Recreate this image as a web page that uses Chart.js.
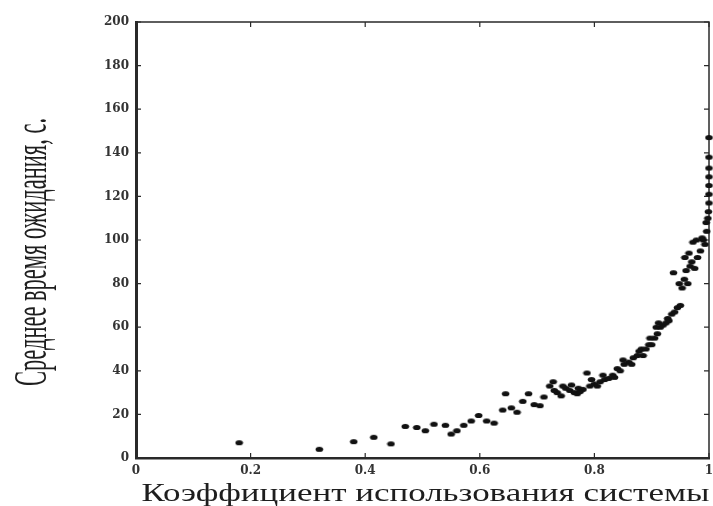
<!DOCTYPE html>
<html>
<head>
<meta charset="utf-8">
<script src="https://cdn.jsdelivr.net/npm/chart.js@4/dist/chart.umd.min.js"></script>
<style>
  html, body { margin: 0; padding: 0; background: #fff; }
  #wrap { width: 713px; height: 506px; }
</style>
</head>
<body>
<div id="wrap"><canvas id="chart"></canvas></div>
<script>
// utilization factor (x) vs mean waiting time, s (y)
const utilization = [
  0.18, 0.32, 0.38, 0.415, 0.445, 0.47, 0.49, 0.505, 0.52, 0.54,
  0.55, 0.56, 0.572, 0.585, 0.598, 0.612, 0.625, 0.64, 0.645, 0.655,
  0.665, 0.675, 0.685, 0.695, 0.705, 0.712, 0.722, 0.728, 0.735, 0.742,
  0.75, 0.757, 0.765, 0.772, 0.78, 0.787, 0.792, 0.8, 0.81, 0.818,
  0.825, 0.832, 0.84, 0.845, 0.852, 0.86, 0.868, 0.875, 0.882, 0.89,
  0.895, 0.9, 0.905, 0.91, 0.915, 0.92, 0.925, 0.93, 0.935, 0.94,
  0.945, 0.95, 0.953, 0.957, 0.96, 0.963, 0.967, 0.97, 0.975, 0.98,
  0.985, 0.99, 0.993, 0.996, 0.998, 0.999, 1.0, 1.0, 1.0, 1.0,
  0.73, 0.745, 0.76, 0.77, 0.775, 0.795, 0.805, 0.815, 0.835, 0.85,
  0.865, 0.878, 0.885, 0.897, 0.908, 0.912, 0.928, 0.938, 0.948, 0.958,
  0.965, 0.972, 0.978, 0.988, 0.995, 1.0, 1.0, 1.0
];
const waitTime = [
  7, 4, 7.5, 9.5, 6.5, 14.5, 14, 12.5, 15.5, 15,
  11, 12.5, 15, 17, 19.5, 17, 16, 22, 29.5, 23,
  21, 26, 29.5, 24.5, 24, 28, 33, 35, 30, 28.5,
  32, 31, 30, 32, 31.5, 39, 33, 34, 35, 36,
  36.5, 38, 41, 40, 43, 44, 46, 47, 50, 50,
  52, 52, 55, 57, 60, 61, 62, 63, 66, 67,
  69, 70, 78, 82, 86, 80, 88, 90, 87, 92,
  95, 100, 98, 104, 110, 113, 117, 121, 129, 147,
  31, 33, 33.5, 29.5, 30.5, 36, 33, 38, 37, 45,
  43, 49, 47, 55, 60, 62, 64, 85, 80, 92,
  94, 99, 100, 101, 108, 125, 138, 133
];
const xTickLabels = ["0", "0.2", "0.4", "0.6", "0.8", "1"];
const yTickLabels = ["0", "20", "40", "60", "80", "100", "120", "140", "160", "180", "200"];

const xTitle = "Коэффициент использования системы";
const yTitle = "Среднее время ожидания, с.";

// blurry elliptical blob used as the marker
function makeBlob() {
  const c = document.createElement("canvas");
  c.width = 9; c.height = 7;
  const g = c.getContext("2d");
  g.fillStyle = "#111";
  g.beginPath();
  g.ellipse(4.5, 3.5, 3.8, 2.6, 0, 0, Math.PI * 2);
  g.fill();
  return c;
}

function drawFitted(ctx, text, x, y, width, angle) {
  ctx.save();
  ctx.translate(x, y);
  ctx.rotate(angle);
  const w = ctx.measureText(text).width;
  ctx.scale(width / w, 1);
  ctx.fillText(text, 0, 0);
  ctx.restore();
}

// frame, inward ticks on all four sides, and the two axis titles
const framePlugin = {
  id: "frame",
  beforeDatasetsDraw(chart) {
    const { ctx, chartArea: a, scales } = chart;
    const x = scales.x, y = scales.y;
    ctx.save();
    ctx.strokeStyle = "#2a2a2a";
    ctx.lineWidth = 1.5;
    ctx.strokeRect(a.left, a.top, a.right - a.left, a.bottom - a.top);
    ctx.lineWidth = 1.2;
    const len = 5;
    ctx.beginPath();
    x.ticks.forEach((t) => {
      const px = x.getPixelForValue(t.value);
      ctx.moveTo(px, a.bottom); ctx.lineTo(px, a.bottom - len);
      ctx.moveTo(px, a.top); ctx.lineTo(px, a.top + len);
    });
    y.ticks.forEach((t) => {
      const py = y.getPixelForValue(t.value);
      ctx.moveTo(a.left, py); ctx.lineTo(a.left + len, py);
      ctx.moveTo(a.right, py); ctx.lineTo(a.right - len, py);
    });
    ctx.stroke();
    ctx.restore();
  },
  afterDraw(chart) {
    const { ctx, chartArea: a } = chart;
    ctx.save();
    ctx.fillStyle = "#1e1e1e";
    ctx.textAlign = "center";
    ctx.textBaseline = "alphabetic";
    ctx.font = "26px 'Liberation Serif', serif";
    drawFitted(ctx, xTitle, (a.left + a.right) / 2 + 3, 501, 568, 0);
    ctx.font = "46px 'Liberation Serif', serif";
    drawFitted(ctx, yTitle, 46, 252, 268, -Math.PI / 2);
    ctx.restore();
  }
};

const ctx = document.getElementById("chart");
new Chart(ctx, {
  type: "scatter",
  data: {
    datasets: [{
      data: utilization.map((u, i) => ({ x: u, y: waitTime[i] })),
      backgroundColor: "#111",
      borderColor: "#111",
      pointStyle: makeBlob(),
      pointRadius: 4,
      borderWidth: 0,
      clip: 6
    }]
  },
  options: {
    responsive: true,
    maintainAspectRatio: false,
    animation: false,
    layout: { padding: { left: 0, top: 22, right: 3, bottom: 0 } },
    plugins: { legend: { display: false }, tooltip: { enabled: false } },
    scales: {
      x: {
        type: "linear",
        min: 0, max: 1,
        ticks: {
          stepSize: 0.2,
          padding: 6,
          color: "#333",
          font: { family: "'DejaVu Serif', serif", size: 12, weight: "bold" },
          callback: (v, i) => xTickLabels[i]
        },
        grid: { display: false, drawTicks: false },
        border: { display: true, color: "#2a2a2a", width: 2.5 },
        afterFit(s) { s.height = 48; s.paddingLeft = 0; s.paddingRight = 0; }
      },
      y: {
        min: 0, max: 200,
        ticks: {
          stepSize: 20,
          padding: 7,
          color: "#333",
          font: { family: "'DejaVu Serif', serif", size: 12, weight: "bold" },
          callback: (v, i) => yTickLabels[i]
        },
        grid: { display: false, drawTicks: false },
        border: { display: true, color: "#2a2a2a", width: 3 },
        afterFit(s) { s.width = 136; s.paddingTop = 0; s.paddingBottom = 0; }
      }
    }
  },
  plugins: [framePlugin]
});
</script>
</body>
</html>
